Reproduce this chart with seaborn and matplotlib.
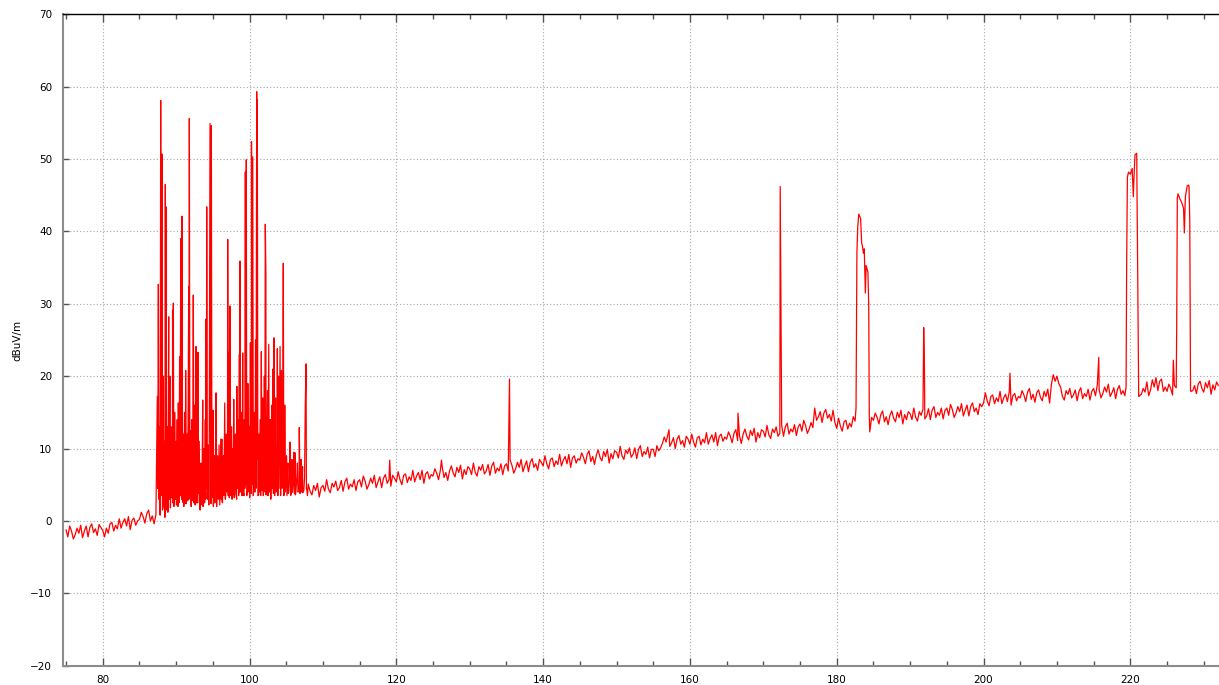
import numpy as np
import pandas as pd
import seaborn as sns
import matplotlib.pyplot as plt
from matplotlib.ticker import MultipleLocator

# noise floor sweep, 75.0 .. 232.0 MHz, one reading every 0.25 MHz (dBuV/m)
sweep_start = 75.0
sweep_step = 0.25
sweep_db = [
    # 75 - 85
    -1.2, -2.2, -0.7, -1.4, -2.5, -1.9, -1.0, -1.7, -0.6, -2.3, -1.4, -0.7, -2.2, -0.9, -0.4, -1.6, -1.1, -2.0, -0.5, -0.9,
    -1.3, -2.2, -1.0, -1.7, -0.4, -0.2, -1.4, -0.6, -1.1, 0.3, -1.0, -0.2, 0.3, -0.7, 0.6, -1.2, 0.1, 0.4, -0.6, 0.0,
    # 85 - 95
    0.2, 1.2, 0.6, -0.3, 1.0, 1.5, 0.0, 0.7, -0.4, 0.9, 4.5, 2.5, 6.0, 2.0, 5.0, 1.5, 7.0, 2.5, 6.0, 2.2,
    8.0, 2.0, 5.5, 3.0, 9.0, 2.4, 6.5, 3.0, 7.5, 2.8, 9.5, 2.5, 6.0, 1.8, 5.0, 2.6, 8.0, 3.2, 6.5, 2.4,
    # 95 - 105
    5.5, 2.5, 8.5, 3.0, 6.0, 2.7, 7.0, 3.5, 9.0, 3.2, 11.0, 3.6, 7.5, 3.0, 9.0, 4.0, 8.0, 3.5, 12.0, 4.2,
    9.5, 3.8, 11.0, 4.0, 8.5, 3.6, 7.0, 4.2, 9.0, 3.6, 8.0, 4.0, 10.5, 3.8, 7.0, 4.4, 9.0, 3.7, 7.5, 4.1,
    # 105 - 115
    6.5, 3.8, 7.5, 4.0, 6.0, 3.6, 7.0, 4.2, 6.5, 3.9, 6.0, 4.4, 5.1, 4.1, 3.6, 4.9, 4.2, 5.2, 3.3, 4.6,
    4.9, 4.1, 5.7, 4.4, 3.9, 5.2, 4.7, 5.5, 4.2, 4.6, 5.6, 4.1, 5.4, 5.9, 4.4, 5.1, 4.7, 5.7, 4.2, 5.4,
    # 115 - 125
    5.7, 4.7, 6.2, 5.5, 4.4, 5.0, 5.9, 5.2, 6.3, 4.6, 5.4, 6.1, 4.6, 5.9, 6.4, 5.2, 5.7, 4.8, 6.3, 5.9,
    5.4, 6.8, 5.7, 5.0, 6.3, 6.5, 5.3, 6.1, 5.6, 7.0, 5.4, 6.2, 6.7, 5.7, 7.0, 5.2, 6.5, 6.8, 5.8, 6.4,
    # 125 - 135
    6.2, 7.2, 6.6, 5.7, 7.0, 7.5, 6.0, 6.7, 5.6, 6.9, 7.6, 6.6, 6.1, 7.4, 6.7, 7.7, 5.8, 7.1, 6.4, 7.5,
    7.2, 6.4, 8.0, 6.7, 6.2, 7.5, 7.0, 7.8, 6.5, 6.9, 7.8, 6.3, 7.6, 8.1, 6.6, 7.3, 6.9, 7.9, 6.4, 7.6,
    # 135 - 145
    7.9, 6.9, 8.4, 7.7, 6.6, 7.2, 8.1, 7.4, 8.5, 6.8, 7.6, 8.3, 6.8, 8.1, 8.6, 7.4, 7.9, 7.0, 8.5, 8.1,
    7.6, 9.0, 7.9, 7.2, 8.5, 8.7, 7.5, 8.3, 7.8, 9.2, 7.6, 8.4, 8.9, 7.9, 9.2, 7.4, 8.7, 9.0, 8.0, 8.6,
    # 145 - 155
    8.4, 9.4, 8.8, 7.9, 9.2, 9.7, 8.2, 8.9, 7.8, 9.1, 9.8, 8.8, 8.3, 9.6, 8.9, 9.9, 8.0, 9.3, 8.6, 9.7,
    9.5, 8.7, 10.3, 9.0, 8.5, 9.8, 9.3, 10.1, 8.8, 9.2, 10.1, 8.6, 9.9, 10.4, 8.9, 9.6, 9.2, 10.2, 8.7, 9.9,
    # 155 - 165
    9.9, 8.9, 10.4, 9.7, 10.1, 10.7, 11.6, 10.9, 12.0, 10.3, 10.8, 11.5, 10.0, 11.3, 11.8, 10.6, 11.1, 10.2, 11.7, 11.3,
    10.6, 12.0, 10.9, 10.2, 11.5, 11.7, 10.5, 11.3, 10.8, 12.2, 10.6, 11.4, 11.9, 10.9, 12.2, 10.4, 11.7, 12.0, 11.0, 11.6,
    # 165 - 175
    11.3, 12.3, 11.7, 10.8, 12.1, 12.6, 11.1, 11.8, 10.7, 12.0, 12.7, 11.7, 11.2, 12.5, 11.8, 12.8, 10.9, 12.2, 11.5, 12.6,
    12.4, 11.6, 13.2, 11.9, 11.4, 12.7, 12.2, 13.0, 11.7, 12.1, 13.2, 11.7, 13.0, 13.5, 12.0, 12.7, 12.3, 13.3, 11.8, 13.0,
    # 175 - 185
    13.4, 12.4, 13.9, 13.2, 12.1, 12.7, 13.6, 12.9, 15.6, 13.9, 14.4, 15.1, 13.6, 14.9, 15.4, 14.2, 14.7, 13.8, 15.3, 13.6,
    12.8, 14.2, 13.1, 12.4, 13.7, 13.9, 12.7, 13.5, 13.0, 14.4, 13.8, 37.0, 42.4, 41.8, 38.0, 37.6, 35.3, 34.4, 12.3, 14.3,
    # 185 - 195
    13.9, 14.9, 14.3, 13.4, 14.7, 15.2, 13.7, 14.4, 13.3, 14.6, 15.2, 14.2, 13.7, 15.0, 14.3, 15.3, 13.4, 14.7, 14.0, 15.1,
    14.8, 14.0, 15.6, 14.3, 13.8, 15.1, 14.6, 15.4, 14.1, 14.5, 15.5, 14.0, 15.3, 15.8, 14.3, 15.0, 14.6, 15.6, 14.1, 15.3,
    # 195 - 205
    15.6, 14.6, 16.1, 15.4, 14.3, 14.9, 15.8, 15.1, 16.2, 14.5, 15.3, 16.0, 14.5, 15.8, 16.3, 15.1, 15.6, 14.7, 16.2, 15.8,
    16.3, 17.7, 16.6, 15.9, 17.2, 17.4, 16.2, 17.0, 16.5, 17.9, 16.2, 17.0, 17.5, 16.5, 17.8, 16.0, 17.3, 17.6, 16.6, 17.2,
    # 205 - 215
    17.0, 18.0, 17.4, 16.5, 17.8, 18.3, 16.8, 17.5, 16.4, 17.7, 18.1, 17.1, 16.6, 17.9, 17.2, 18.2, 16.3, 18.9, 20.2, 19.3,
    20.0, 19.0, 18.5, 17.2, 16.7, 18.0, 17.5, 18.3, 17.0, 17.4, 18.1, 16.6, 17.9, 18.4, 16.9, 17.6, 17.2, 18.2, 16.7, 17.9,
    # 215 - 225
    18.3, 17.3, 18.8, 18.1, 17.0, 17.6, 18.5, 17.8, 18.9, 17.2, 17.7, 18.4, 16.9, 18.2, 18.7, 17.5, 18.0, 17.3, 35.6, 48.2,
    47.9, 48.7, 47.5, 50.7, 34.7, 17.3, 17.5, 18.3, 17.8, 19.2, 17.3, 18.1, 19.5, 18.5, 19.8, 18.0, 19.3, 19.6, 17.9, 18.5,
    # 225 - 232
    17.9, 18.9, 18.3, 17.4, 18.7, 18.4, 45.2, 44.5, 44.0, 43.2, 44.8, 46.3, 46.1, 17.9,
    18.0, 18.7, 17.6, 18.9, 19.3, 18.3, 17.8, 19.1, 18.4, 19.4, 17.5, 18.8, 18.1, 19.2, 18.7,
]

# FM broadcast band: carriers and the floor between them
fm_mhz = [
    87.44, 87.58, 87.66, 87.74, 87.82, 87.90, 87.96, 88.08, 88.14, 88.27, 88.33, 88.40, 88.47, 88.53, 88.58, 88.62,
    88.70, 88.80, 88.88, 88.99, 89.05, 89.15, 89.22, 89.32, 89.40, 89.52, 89.56, 89.62, 89.70, 89.80, 89.88, 89.98,
    90.05, 90.15, 90.22, 90.30, 90.38, 90.48, 90.55, 90.63, 90.70, 90.80, 90.88, 90.98, 91.05, 91.15, 91.22, 91.30,
    91.38, 91.52, 91.58, 91.72, 91.80, 91.88, 91.98, 92.05, 92.15, 92.22, 92.34, 92.42, 92.52, 92.60, 92.71, 92.78,
    92.86, 92.93, 92.98, 93.05, 93.15, 93.27, 93.40, 93.52, 93.62, 93.68, 93.80, 93.88, 93.98, 94.02, 94.07, 94.12,
    94.17, 94.27, 94.36, 94.45, 94.62, 94.70, 94.80, 94.88, 95.02, 95.08, 95.20, 95.30, 95.44, 95.52, 95.65, 95.77,
    95.85, 95.95, 96.08, 96.15, 96.23, 96.32, 96.45, 96.52, 96.62, 96.70, 96.80, 96.88, 97.03, 97.10, 97.20, 97.27,
    97.34, 97.42, 97.55, 97.62, 97.70, 97.78, 97.85, 97.92, 98.05, 98.12, 98.27, 98.33, 98.45, 98.52, 98.62, 98.66,
    98.71, 98.78, 98.90, 98.98, 99.07, 99.15, 99.30, 99.36, 99.43, 99.48, 99.56, 99.62, 99.77, 99.82, 99.95, 100.02,
    100.12, 100.18, 100.27, 100.32, 100.44, 100.52, 100.62, 100.70, 100.82, 100.88, 100.98, 101.06, 101.14, 101.27, 101.32, 101.45,
    101.52, 101.61, 101.68, 101.80, 101.88, 102.02, 102.08, 102.15, 102.23, 102.32, 102.45, 102.52, 102.62, 102.70, 102.82, 102.90,
    103.02, 103.08, 103.20, 103.27, 103.34, 103.42, 103.55, 103.62, 103.79, 103.86, 103.95, 104.02, 104.16, 104.23, 104.35, 104.42,
    104.60, 104.68, 104.80, 104.88, 105.04, 105.10, 105.23, 105.35, 105.52, 105.60, 105.77, 105.85, 106.04, 106.10, 106.23, 106.32,
    106.52, 106.60, 106.78, 106.88, 107.04, 107.10, 107.23, 107.40, 107.60, 107.70, 107.77, 107.90,
]
fm_db = [
    17.2, 32.7, 3.0, 13.0, 0.8, 58.1, 3.5, 50.7, 1.5, 20.0, 2.0, 11.0, 0.5, 46.5, 4.0, 43.4,
    2.5, 13.0, 1.2, 28.2, 3.0, 20.0, 1.8, 13.0, 3.2, 29.1, 2.5, 30.1, 2.0, 15.0, 3.0, 11.0,
    2.2, 14.0, 3.0, 16.3, 2.5, 22.7, 3.5, 39.0, 4.0, 42.1, 2.6, 12.0, 2.0, 15.0, 3.0, 20.8,
    2.4, 12.0, 2.8, 32.4, 55.6, 3.5, 12.5, 2.0, 14.0, 3.0, 31.2, 2.5, 16.0, 2.2, 24.1, 3.3,
    14.0, 2.5, 23.3, 3.8, 11.0, 1.5, 8.0, 2.2, 16.7, 2.0, 10.0, 2.5, 14.0, 3.0, 27.9, 4.5,
    43.4, 3.0, 10.5, 2.2, 54.9, 4.0, 54.6, 3.2, 15.3, 2.0, 9.0, 2.5, 17.7, 2.0, 9.0, 3.0,
    10.5, 2.2, 11.3, 3.0, 11.3, 2.5, 9.0, 3.5, 16.3, 3.0, 12.0, 4.0, 38.9, 3.5, 23.3, 4.5,
    29.7, 3.5, 13.0, 3.0, 10.0, 4.0, 16.8, 3.2, 12.0, 3.8, 18.6, 4.5, 14.0, 3.5, 23.0, 4.0,
    35.9, 4.5, 15.0, 3.5, 23.2, 4.0, 14.0, 4.5, 48.2, 5.0, 49.9, 3.5, 19.0, 4.0, 13.0, 3.2,
    24.6, 4.0, 52.4, 5.0, 50.3, 3.5, 15.0, 4.0, 25.0, 4.5, 59.3, 58.2, 3.5, 12.0, 4.0, 14.0,
    3.5, 23.4, 4.5, 17.0, 3.5, 20.0, 4.0, 41.0, 34.2, 4.0, 18.0, 3.5, 24.4, 4.0, 14.0, 3.0,
    16.0, 4.5, 21.0, 4.0, 25.3, 3.5, 17.0, 4.0, 23.8, 3.5, 20.0, 4.5, 24.1, 3.5, 20.8, 4.5,
    35.6, 3.5, 16.0, 4.0, 9.0, 3.5, 8.0, 4.0, 10.9, 3.5, 8.5, 4.0, 9.5, 3.8, 9.4, 4.0,
    8.0, 4.0, 12.9, 3.8, 8.5, 4.0, 7.5, 4.2, 16.3, 21.7, 4.5, 3.5,
]

# other carriers standing above the floor
peak_mhz = [
    119.1, 126.15, 135.42, 135.46, 157.15, 166.55, 172.3, 172.4,
    182.63, 182.86, 183.4, 183.63, 183.9, 184.36, 184.44,
    191.85, 191.95, 203.6, 215.7,
    219.42, 219.6, 220.41, 220.64, 220.87, 221.14,
    225.86, 226.32, 226.4, 227.36, 227.96, 228.1, 228.2,
]
peak_db = [
    8.4, 8.4, 19.6, 13.3, 12.6, 14.9, 46.2, 29.4,
    15.6, 40.6, 38.4, 37.0, 31.5, 29.6, 14.4,
    26.7, 21.3, 20.4, 22.6,
    18.5, 47.5, 44.8, 50.6, 50.8, 17.2,
    22.2, 27.3, 44.6, 39.8, 46.4, 41.2, 18.0,
]

sweep_mhz = sweep_start + sweep_step * np.arange(len(sweep_db))
df = pd.concat([
    pd.DataFrame({'mhz': sweep_mhz, 'db': sweep_db}),
    pd.DataFrame({'mhz': fm_mhz, 'db': fm_db}),
    pd.DataFrame({'mhz': peak_mhz, 'db': peak_db}),
]).sort_values('mhz', kind='stable')

sns.set_theme(style='white')
plt.rcParams['font.family'] = ['DejaVu Sans']

fig = plt.figure(figsize=(12.19, 6.85), dpi=100)
ax = fig.add_axes([63.3 / 1219, 1 - 665.7 / 685, 1 - 63.3 / 1219, (665.7 - 14.3) / 685])

sns.lineplot(data=df, x='mhz', y='db', color='#ff0000', linewidth=0.9,
             estimator=None, sort=False, ax=ax)

ax.set_xlim(74.63, 232.08)
ax.set_ylim(-20, 70)
ax.xaxis.set_major_locator(MultipleLocator(20))
ax.xaxis.set_minor_locator(MultipleLocator(5))
ax.yaxis.set_major_locator(MultipleLocator(10))

ax.set_axisbelow(True)
ax.grid(True, which='major', color='#a8a8a8', linestyle=(0, (1, 2)), linewidth=0.8)

ax.tick_params(axis='x', which='both', direction='in', top=True, bottom=True, color='#555555')
ax.tick_params(axis='x', which='major', length=6, width=1, pad=7, labelsize=7.5, labelcolor='black')
ax.tick_params(axis='x', which='minor', length=3.5, width=1)
ax.tick_params(axis='y', direction='in', left=True, right=False, length=4, width=1,
               color='#555555', pad=8, labelsize=7.5, labelcolor='black')

for side in ['left', 'bottom']:
    ax.spines[side].set_color('#8c8c8c')
    ax.spines[side].set_linewidth(1.5)
ax.spines['top'].set_color('black')
ax.spines['top'].set_linewidth(1)
ax.spines['right'].set_visible(False)

ax.set_xlabel('')
ax.set_ylabel('dBuV/m', fontsize=7.5, labelpad=6, color='black')

fig.savefig('out.png', dpi=100)
